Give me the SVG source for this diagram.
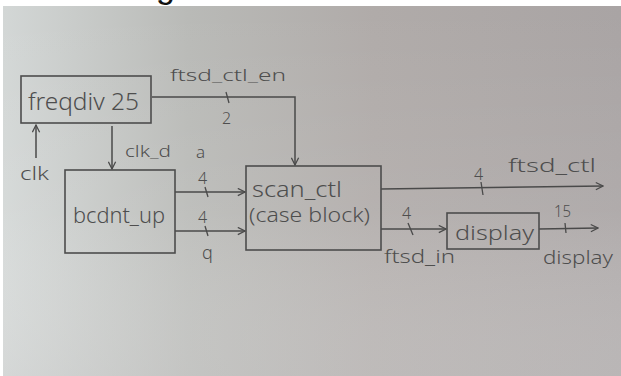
<svg xmlns="http://www.w3.org/2000/svg" width="621" height="376" viewBox="0 0 621 376">
<defs>
<linearGradient id="bgH" x1="0" y1="0" x2="1" y2="0">
<stop offset="0" stop-color="#d3d7d6"/>
<stop offset="0.3" stop-color="#b9bab7"/>
<stop offset="0.6" stop-color="#b0aba9"/>
<stop offset="1" stop-color="#a9a4a4"/>
</linearGradient>
<linearGradient id="bgV" x1="0" y1="0" x2="0" y2="1">
<stop offset="0" stop-color="#ffffff" stop-opacity="0"/>
<stop offset="0.55" stop-color="#ffffff" stop-opacity="0.08"/>
<stop offset="1" stop-color="#d8d8d8" stop-opacity="0.35"/>
</linearGradient>
<marker id="arr" viewBox="0 0 10 10" refX="9" refY="5" markerWidth="9" markerHeight="9" markerUnits="userSpaceOnUse" orient="auto">
<path d="M1,1 L9,5 L1,9" fill="none" stroke="#4a4a4a" stroke-width="1.4"/>
</marker>
<style>
.box{fill:none;stroke:#4d4d4d;stroke-width:1.6}
.wire{fill:none;stroke:#4a4a4a;stroke-width:1.5}
.tick{stroke:#4a4a4a;stroke-width:1.3}
.t{font-family:"Noto Sans","DejaVu Sans",sans-serif;fill:#4e4e4e;font-weight:300}
</style>
</defs>
<rect x="0" y="0" width="621" height="376" fill="#ffffff"/>
<rect x="3" y="6" width="618" height="370" fill="url(#bgH)"/>
<rect x="3" y="6" width="618" height="370" fill="url(#bgV)"/>
<text x="156" y="-2" font-family="Liberation Sans, Arial, sans-serif" font-size="34" fill="#111">g</text>

<g id="connectors">
<polyline class="wire" points="152,97 295,97 295,165" marker-end="url(#arr)"/>
<line class="tick" x1="226" y1="92" x2="229" y2="103"/>
<line class="wire" x1="36" y1="158" x2="36" y2="125" marker-end="url(#arr)"/>
<line class="wire" x1="112" y1="126" x2="112" y2="169" marker-end="url(#arr)"/>
<line class="wire" x1="175" y1="192" x2="245" y2="192" marker-end="url(#arr)"/>
<line class="tick" x1="205" y1="187" x2="208" y2="197"/>
<line class="wire" x1="175" y1="231" x2="245" y2="231" marker-end="url(#arr)"/>
<line class="tick" x1="205" y1="226" x2="208" y2="236"/>
<line class="wire" x1="381" y1="189" x2="603" y2="186" marker-end="url(#arr)"/>
<line class="tick" x1="481" y1="182" x2="483" y2="195"/>
<line class="wire" x1="381" y1="229" x2="446" y2="229" marker-end="url(#arr)"/>
<line class="tick" x1="408" y1="223" x2="413" y2="235"/>
<line class="wire" x1="539" y1="229" x2="598" y2="228" marker-end="url(#arr)"/>
<line class="tick" x1="565" y1="223" x2="566" y2="233"/>
<text class="t" x="170" y="81" font-size="17" textLength="116" lengthAdjust="spacingAndGlyphs">ftsd_ctl_en</text>
<text class="t" x="222" y="124" font-size="16">2</text>
<text class="t" x="20" y="180" font-size="19" textLength="29" lengthAdjust="spacingAndGlyphs">clk</text>
<text class="t" x="125" y="157" font-size="17" textLength="46" lengthAdjust="spacingAndGlyphs">clk_d</text>
<text class="t" x="196" y="158" font-size="17">a</text>
<text class="t" x="198" y="184" font-size="16">4</text>
<text class="t" x="198" y="223" font-size="16">4</text>
<text class="t" x="202" y="259" font-size="18">q</text>
<text class="t" x="474" y="180" font-size="16">4</text>
<text class="t" x="508" y="172" font-size="18" textLength="88" lengthAdjust="spacingAndGlyphs">ftsd_ctl</text>
<text class="t" x="402" y="219" font-size="16">4</text>
<text class="t" x="384" y="263" font-size="18" textLength="71" lengthAdjust="spacingAndGlyphs">ftsd_in</text>
<text class="t" x="554" y="217" font-size="16" textLength="17" lengthAdjust="spacingAndGlyphs">15</text>
<text class="t" x="543" y="264" font-size="19" textLength="70" lengthAdjust="spacingAndGlyphs">display</text>
</g>

<g id="freqdiv25">
<rect class="box" x="21" y="76" width="130" height="47"/>
<text class="t" x="28" y="110" font-size="23" textLength="111" lengthAdjust="spacingAndGlyphs">freqdiv 25</text>
</g>
<g id="bcdnt_up">
<rect class="box" x="65" y="170" width="110" height="83"/>
<text class="t" x="73" y="223" font-size="22" textLength="92" lengthAdjust="spacingAndGlyphs">bcdnt_up</text>
</g>
<g id="scan_ctl">
<rect class="box" x="246" y="166" width="135" height="84"/>
<text class="t" x="252" y="197" font-size="21" textLength="90" lengthAdjust="spacingAndGlyphs">scan_ctl</text>
<text class="t" x="249" y="222" font-size="20" textLength="121" lengthAdjust="spacingAndGlyphs">(case block)</text>
</g>
<g id="display">
<rect class="box" x="447" y="213" width="92" height="36"/>
<text class="t" x="455" y="240" font-size="20" textLength="79" lengthAdjust="spacingAndGlyphs">display</text>
</g>
</svg>
